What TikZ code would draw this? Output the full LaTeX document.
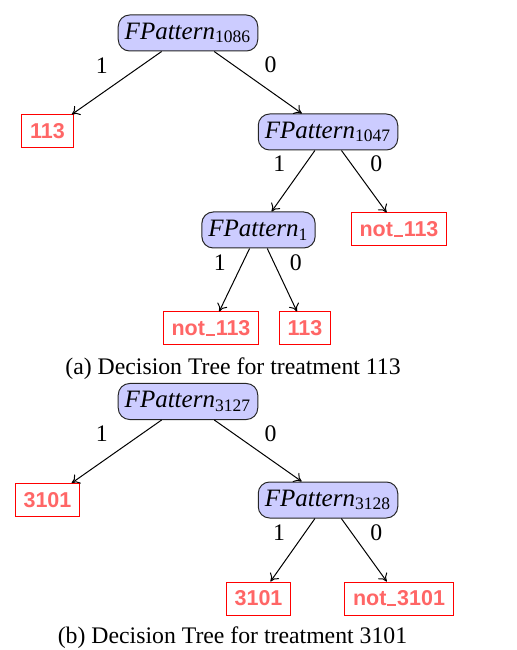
\documentclass[tikz,border=0pt]{standalone}
\usepackage{amsmath}
\usepackage{fontspec}
\setmainfont{Liberation Serif}
\newfontfamily\leafFont{Liberation Sans}
\usepackage{tikz}
\usetikzlibrary{positioning, arrows.meta}
\tikzstyle{decisionTree} = [x = 0.4pt, y = -0.4pt]
\definecolor{patternColor}{RGB}{204,204,255}
\definecolor{leafColor}{RGB}{255,102,102}
\tikzstyle{patternStyle} = [draw=black!85, fill=patternColor, rounded corners = .16cm, inner xsep = 2.6pt, inner ysep = 0pt, minimum height = 14.4pt, font=\fontsize{10}{12}\selectfont]
\tikzstyle{leafStyle} = [draw=red, text=leafColor, inner xsep = 3.4pt, inner ysep = 0pt, minimum height = 13.2pt, font=\fontsize{8.6}{10}\leafFont\bfseries]
\tikzstyle{branchStyle} = [-{To[length = 3pt, width = 4.4pt]}, black, line width = .4pt]
\tikzstyle{branchText} = [pos = .22, font=\fontsize{9.5}{11}\selectfont]
\tikzstyle{captionText} = [anchor = base, font=\fontsize{9.5}{11}\selectfont]
\newcommand{\lowBar}{\kern.04em\rule[-.04em]{.42em}{.11em}\kern.04em}
\newcommand{\patternNode}[4]{\node [patternStyle] (#1) at (#2,#3) {$\textit{FPattern}_{\text{#4}}$};}
\newcommand{\leafNode}[4]{\node [leafStyle] (#1) at (#2,#3) {#4};}
\newcommand{\branch}[4]{\draw [branchStyle] (#1) -- node [branchText, xshift = #3 * 0.4pt] {#4} (#2);}

\begin{document}
\begin{tikzpicture}[decisionTree]
  \useasboundingbox (0,0) rectangle (516,650);

  % tree for treatment 113
  \patternNode{patternA}{188}{33}{1086}
  \leafNode{leafA}{47.5}{131.5}{113}
  \patternNode{patternB}{328}{132}{1047}
  \patternNode{patternC}{258.5}{230}{1}
  \leafNode{leafB}{399}{229.5}{not\lowBar 113}
  \leafNode{leafC}{211}{328.5}{not\lowBar 113}
  \leafNode{leafD}{305}{328.5}{113}
  \branch{patternA}{leafA}{-40}{1}
  \branch{patternA}{patternB}{37}{0}
  \branch{patternB}{patternC}{-26}{1}
  \branch{patternB}{leafB}{25}{0}
  \branch{patternC}{leafC}{-23}{1}
  \branch{patternC}{leafD}{22}{0}
  \node [captionText] (captionA) at (233,375) {(a) Decision Tree for treatment 113};

  % tree for treatment 3101
  \patternNode{patternD}{188}{401.5}{3127}
  \leafNode{leafE}{47.5}{500}{3101}
  \patternNode{patternE}{328}{500}{3128}
  \leafNode{leafF}{258.5}{598.5}{3101}
  \leafNode{leafG}{399}{598.5}{not\lowBar 3101}
  \branch{patternD}{leafE}{-40}{1}
  \branch{patternD}{patternE}{37}{0}
  \branch{patternE}{leafF}{-26}{1}
  \branch{patternE}{leafG}{25}{0}
  \node [captionText] (captionB) at (232.5,643) {(b) Decision Tree for treatment 3101};
\end{tikzpicture}
\end{document}
